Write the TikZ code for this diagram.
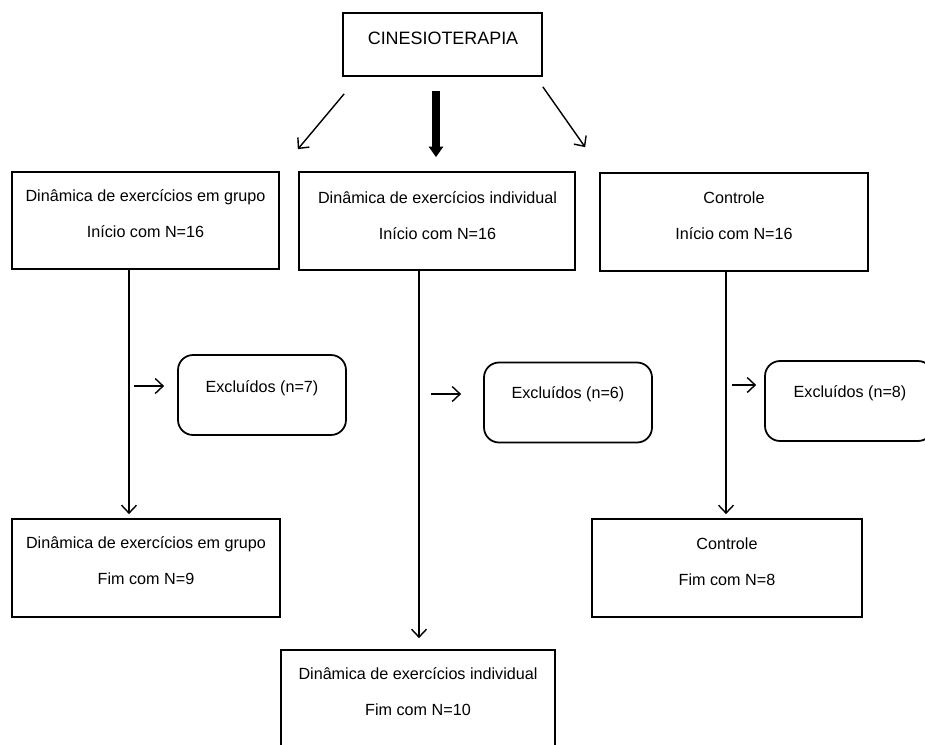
\documentclass[tikz,border=0pt]{standalone}
\usepackage{fontspec}
\setmainfont{Liberation Sans}
\usepackage{tikz}
\usetikzlibrary{positioning,calc,arrows.meta}

\begin{document}
\begin{tikzpicture}[x=0.02cm, y=-0.02cm,
    box/.style={draw, line width=1pt, inner sep=0pt},
    exbox/.style={box, rounded corners=0.3cm, minimum width=3.36cm, minimum height=1.6cm},
    txt/.style={align=center, inner sep=0pt, font=\fontsize{9.2}{20.4}\selectfont},
    arr/.style={line width=0.8pt, -{Straight Barb[length=4.5pt,width=8.5pt]}}]
    \clip (0,0) rectangle (925,744);

    % Boxes
    \node[box, minimum width=3.98cm, minimum height=1.26cm] (cin) at (442.5,44.5) {};
    \node[box, minimum width=5.34cm, minimum height=1.94cm] (grp) at (145.5,220.5) {};
    \node[box, minimum width=5.52cm, minimum height=1.96cm] (ind) at (437,221) {};
    \node[box, minimum width=5.36cm, minimum height=1.96cm] (ctl) at (734,222) {};
    \node[exbox] (exg) at (262,395) {};
    \node[exbox] (exi) at (568,402.5) {};
    \node[exbox] (exc) at (849,401) {};
    \node[box, minimum width=5.36cm, minimum height=1.96cm] (fgrp) at (146,568) {};
    \node[box, minimum width=5.40cm, minimum height=1.96cm] (fctl) at (727,568) {};
    \node[box, minimum width=5.48cm, minimum height=1.96cm] (find) at (418,699) {};

    % Texts
    \node[font=\fontsize{10.2}{12}\selectfont] (cint) at (443,38) {CINESIOTERAPIA};
    \node[txt] (grpt) at (145.5,214) {Dinâmica de exercícios em grupo\\Início com N=16};
    \node[txt] (indt) at (437.5,215.5) {Dinâmica de exercícios individual\\Início com N=16};
    \node[txt] (ctlt) at (734,216) {Controle\\Início com N=16};
    \node[txt] (exgt) at (262,388) {Excluídos (n=7)};
    \node[txt] (exit) at (568,394) {Excluídos (n=6)};
    \node[txt] (exct) at (850,393) {Excluídos (n=8)};
    \node[txt] (fgrpt) at (146,561) {Dinâmica de exercícios em grupo\\Fim com N=9};
    \node[txt] (fctlt) at (727,561.5) {Controle\\Fim com N=8};
    \node[txt] (findt) at (418,691.5) {Dinâmica de exercícios individual\\Fim com N=10};

    % From CINESIOTERAPIA
    \draw[arr] ($(cin.south west)+(2,17)$) -- ($(grp.north east)+(18,-22)$);
    \draw[line width=4pt, -{Triangle[length=6pt,width=8pt]}] ($(cin.south)+(-6.5,14)$) -- ($(ind.north)+(-1,-14)$);
    \draw[arr] ($(cin.south east)+(0,10)$) -- ($(ctl.north west)+(-14,-25)$);

    % Down to the end boxes
    \draw[arr, shorten >=0.08cm] (129,0 |- grp.south) -- (129,0 |- fgrp.north);
    \draw[arr, shorten >=0.22cm] (419,0 |- ind.south) -- (419,0 |- find.north);
    \draw[arr, shorten >=0.08cm] (726,0 |- ctl.south) -- (726,0 |- fctl.north);

    % Excluded
    \draw[arr] ($(exg.west)+(-43,-9)$) -- ($(exg.west)+(-13,-9)$);
    \draw[arr] ($(exi.west)+(-52,-8.5)$) -- ($(exi.west)+(-22,-8.5)$);
    \draw[arr] ($(exc.west)+(-32,-16)$) -- ($(exc.west)+(-8,-16)$);
\end{tikzpicture}
\end{document}
